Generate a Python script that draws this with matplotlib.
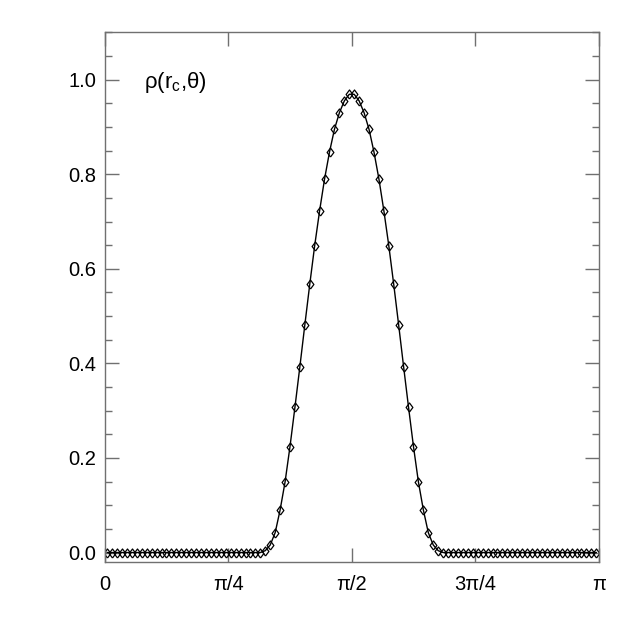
import numpy as np
import matplotlib
matplotlib.use("Agg")
import matplotlib.pyplot as plt
from matplotlib.ticker import MultipleLocator, FixedLocator

plt.rcParams['font.family'] = ['Liberation Sans', 'DejaVu Sans']
plt.rcParams['mathtext.fontset'] = 'custom'
plt.rcParams['mathtext.rm'] = 'Liberation Sans'

n_points = 100
rho_values = [
    0, 0, 0, 0, 0, 0, 0, 0, 0, 0,
    0, 0, 0, 0, 0, 0, 0, 0, 0, 0,
    0, 0, 0, 0, 0, 0, 0, 0, 0, 0,
    0, 0, 0.004, 0.016, 0.042, 0.090, 0.149, 0.224, 0.307, 0.393,
    0.481, 0.567, 0.649, 0.723, 0.790, 0.847, 0.895, 0.930, 0.955, 0.969,
    0.969, 0.955, 0.930, 0.895, 0.847, 0.790, 0.723, 0.649, 0.567, 0.481,
    0.393, 0.307, 0.224, 0.149, 0.090, 0.042, 0.016, 0.004, 0, 0,
    0, 0, 0, 0, 0, 0, 0, 0, 0, 0,
    0, 0, 0, 0, 0, 0, 0, 0, 0, 0,
    0, 0, 0, 0, 0, 0, 0, 0, 0, 0,
]
theta = (np.arange(n_points) + 0.5) * np.pi / n_points

x_tick_pos = [0, np.pi / 4, np.pi / 2, 3 * np.pi / 4, np.pi]
x_tick_labels = ["0", "π/4", "π/2", "3π/4", "π"]
y_tick_pos = [0.0, 0.2, 0.4, 0.6, 0.8, 1.0]
y_tick_labels = ["0.0", "0.2", "0.4", "0.6", "0.8", "1.0"]

fig = plt.figure(figsize=(6.29, 6.29), dpi=100)
ax = fig.add_axes([0.1665, 0.1065, 0.7854, 0.8421])

diamond = [(0, -1), (0.75, 0), (0, 1), (-0.75, 0), (0, -1)]
ax.plot(theta, rho_values, color="black", lw=1.0, marker=diamond,
        markersize=6.5, markerfacecolor="none", markeredgecolor="black",
        markeredgewidth=0.9)

ax.set_xlim(0, np.pi)
ax.set_ylim(-0.02, 1.1)
ax.xaxis.set_major_locator(FixedLocator(x_tick_pos))
ax.set_xticklabels(x_tick_labels)
ax.yaxis.set_major_locator(FixedLocator(y_tick_pos))
ax.set_yticklabels(y_tick_labels)
ax.yaxis.set_minor_locator(MultipleLocator(0.05))

sc = "#707070"
for s in ax.spines.values():
    s.set_color(sc)
    s.set_linewidth(1.0)
ax.tick_params(which="both", direction="in", top=True, right=True,
               color=sc, width=1.0, labelsize=14.5)
ax.tick_params(which="major", length=10)
ax.tick_params(which="minor", length=5)
ax.tick_params(axis="x", pad=9)
ax.tick_params(axis="y", pad=6)

ax.text(0.08, 0.905, r"$\mathregular{\rho(r_c{,}\theta)}$", transform=ax.transAxes,
        fontsize=16, ha="left", va="center")

fig.savefig("out.png", dpi=100)
